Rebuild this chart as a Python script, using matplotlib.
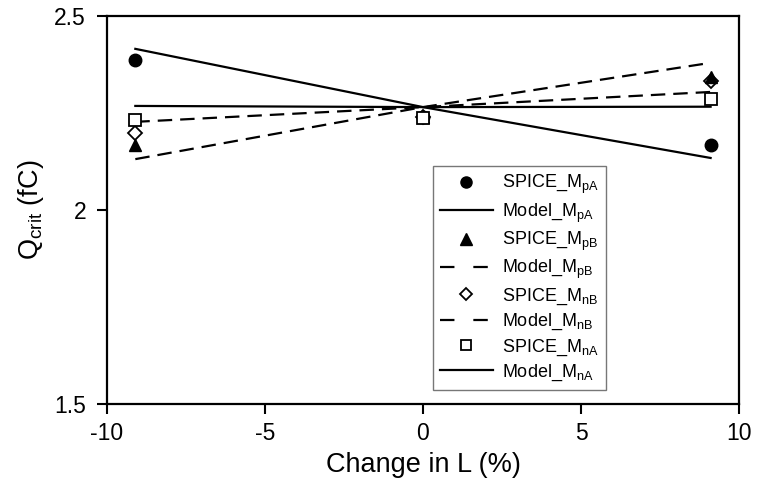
import matplotlib
matplotlib.use("Agg")
import matplotlib.pyplot as plt
from matplotlib.lines import Line2D

plt.rcParams["font.family"] = ["Liberation Sans", "DejaVu Sans"]
plt.rcParams["mathtext.fontset"] = "custom"
plt.rcParams["mathtext.rm"] = "Liberation Sans"
plt.rcParams["mathtext.it"] = "Liberation Sans"

# Change in channel length (%)
change_L = [-9.1, 0.0, 9.1]

# SPICE simulated critical charge (fC)
spice_MpA = [2.387, 2.24, 2.168]
spice_MpB = [2.168, 2.24, 2.343]
spice_MnB = [2.198, 2.24, 2.332]
spice_MnA = [2.232, 2.237, 2.286]

# Model predicted critical charge (fC)
model_MpA = [2.415, 2.265, 2.134]
model_MpB = [2.131, 2.265, 2.379]
model_MnB = [2.227, 2.265, 2.304]
model_MnA = [2.268, 2.265, 2.266]

x_ticks = [-10, -5, 0, 5, 10]
y_ticks = [1.5, 2.0, 2.5]
y_tick_labels = ["1.5", "2", "2.5"]

fig = plt.figure(figsize=(7.58, 4.8), dpi=100)
ax = fig.add_axes([0.141, 0.158, 0.834, 0.809])

lw = 1.6
dash = (6.5, 3.6)
ax.plot(change_L, model_MpA, color="black", lw=lw, zorder=2)
ax.plot(change_L, model_MpB, color="black", lw=lw, dashes=dash, zorder=2)
ax.plot(change_L, model_MnB, color="black", lw=lw, dashes=dash, zorder=2)
ax.plot(change_L, model_MnA, color="black", lw=lw, zorder=2)

ms = 9
ax.plot(change_L, spice_MpA, "o", color="black", ms=ms, ls="none", zorder=3)
ax.plot(change_L, spice_MnB, "D", mfc="white", mec="black", mew=1.3, ms=7, ls="none", zorder=3)
ax.plot(change_L, spice_MpB, "^", color="black", ms=ms, ls="none", zorder=4)
ax.plot(change_L, spice_MnA, "s", mfc="white", mec="black", mew=1.3, ms=8.5, ls="none", zorder=5)

ax.set_xlim(-10, 10)
ax.set_ylim(1.5, 2.5)
ax.set_xticks(x_ticks)
ax.set_xticklabels([str(t) for t in x_ticks])
ax.set_yticks(y_ticks)
ax.set_yticklabels(y_tick_labels)

for s in ax.spines.values():
    s.set_linewidth(1.6)
ax.tick_params(direction="out", length=7, width=1.5, labelsize=16.5)
ax.tick_params(axis="x", pad=6)
ax.tick_params(axis="y", pad=8)

ax.set_xlabel("Change in L (%)", fontsize=19.5, labelpad=5)
ax.set_ylabel(r"Q$_\mathregular{crit}$ (fC)", fontsize=19.5, labelpad=6)

leg_dash = (6.5, 8.5)
handles = [
    Line2D([], [], marker="o", color="black", ms=8, ls="none"),
    Line2D([], [], color="black", lw=lw),
    Line2D([], [], marker="^", color="black", ms=8, ls="none"),
    Line2D([], [], color="black", lw=lw, dashes=leg_dash),
    Line2D([], [], marker="D", mfc="white", mec="black", mew=1.3, ms=6, ls="none"),
    Line2D([], [], color="black", lw=lw, dashes=leg_dash),
    Line2D([], [], marker="s", mfc="white", mec="black", mew=1.3, ms=7.5, ls="none"),
    Line2D([], [], color="black", lw=lw),
]
labels = [
    r"SPICE_M$_\mathregular{pA}$",
    r"Model_M$_\mathregular{pA}$",
    r"SPICE_M$_\mathregular{pB}$",
    r"Model_M$_\mathregular{pB}$",
    r"SPICE_M$_\mathregular{nB}$",
    r"Model_M$_\mathregular{nB}$",
    r"SPICE_M$_\mathregular{nA}$",
    r"Model_M$_\mathregular{nA}$",
]
leg = ax.legend(handles, labels, loc="lower left", bbox_to_anchor=(0.516, 0.036),
                fontsize=13, frameon=True, fancybox=False, shadow=False,
                handlelength=2.9, handletextpad=0.5, labelspacing=0.28,
                borderpad=0.4, borderaxespad=0)
leg.get_frame().set_edgecolor("#555555")
leg.get_frame().set_linewidth(1.0)

fig.savefig("out.png", dpi=100)
